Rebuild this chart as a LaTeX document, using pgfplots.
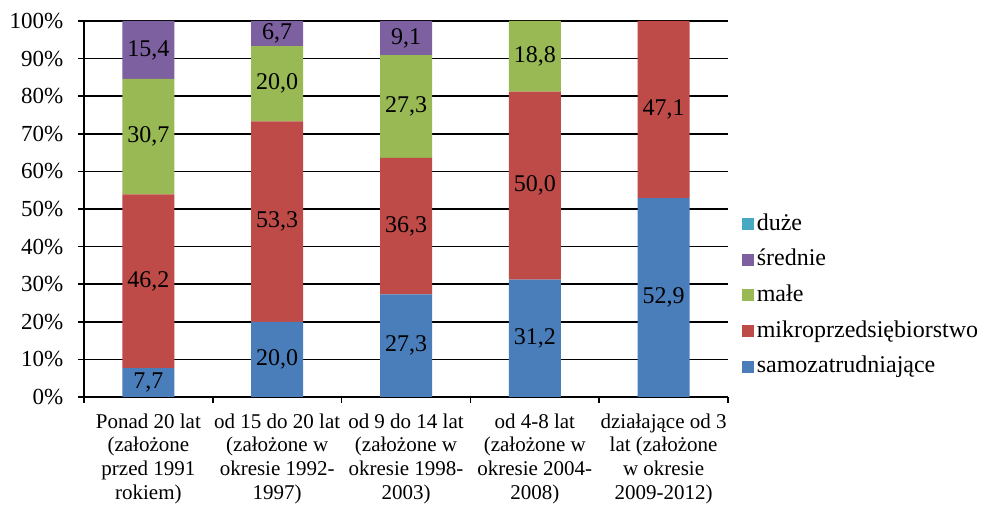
\documentclass[border=0pt]{standalone}
\usepackage{fontspec}
\setmainfont{Liberation Serif}
\usepackage{pgfplots}
\usepackage{pgfplotstable}
\pgfplotsset{compat=1.18}
\definecolor{cSamo}{HTML}{4A7EBB}
\definecolor{cMikro}{HTML}{BE4B48}
\definecolor{cMale}{HTML}{98B954}
\definecolor{cSred}{HTML}{7D60A0}
\definecolor{cDuze}{HTML}{46AAC5}
\pgfplotstableread{
x samo samoL mikro mikroL male maleL sred sredL duze duzeL
0 7.7  7,7  46.2 46,2 30.7 30,7 15.4 15,4 0 {}
1 20.0 20,0 53.3 53,3 20.0 20,0 6.7  6,7  0 {}
2 27.3 27,3 36.3 36,3 27.3 27,3 9.1  9,1  0 {}
3 31.2 31,2 50.0 50,0 18.8 18,8 0    {}   0 {}
4 52.9 52,9 47.1 47,1 0    {}   0    {}   0 {}
}\data
\begin{document}
\fontsize{11}{12.5}\selectfont
\begin{tikzpicture}
\begin{axis}[
  at={(0,0)}, anchor=south west,
  scale only axis, width=322pt, height=188pt,
  ybar stacked, bar width=26pt,
  xmin=-0.5, xmax=4.5, ymin=0, ymax=100,
  axis lines*=left,
  axis line style={black, line width=1pt},
  tick align=outside,
  major tick length=3pt,
  xtick={-0.5,0.5,...,4.5},
  xticklabels={},
  extra x ticks={0,1,2,3,4},
  extra x tick labels={{Ponad 20 lat\\(założone\\przed 1991\\rokiem)},
    {od 15 do 20 lat\\(założone w\\okresie 1992-\\1997)},
    {od 9 do 14 lat\\(założone w\\okresie 1998-\\2003)},
    {od 4-8 lat\\(założone w\\okresie 2004-\\2008)},
    {działające od 3\\lat (założone\\w okresie\\2009-2012)}},
  extra x tick style={major tick length=0pt, grid=none},
  xticklabel style={align=center, yshift=-4.5pt, font=\fontsize{10.5}{11.85}\selectfont},
  ytick={0,10,...,100},
  yticklabel={\pgfmathprintnumber{\tick}\%},
  /pgf/number format/assume math mode=true,
  yticklabel style={xshift=-3.5pt, font=\fontsize{11.5}{13}\selectfont},
  ymajorgrids, grid style={black, line width=0.75pt},
  tick style={black, line width=0.75pt},
  point meta=explicit symbolic,
  nodes near coords,
  every node near coord/.append style={anchor=center, text=black, font=\fontsize{12}{14}\selectfont},
  legend image code/.code={\fill[#1] (0pt,-3pt) rectangle (6pt,3pt);},
  reverse legend,
  legend cell align=left,
  legend style={draw=none, fill=none, at={(1.0217,0.27)}, anchor=west, inner sep=0pt,
    row sep=5.4pt, font=\fontsize{12}{14}\selectfont, nodes={inner sep=1.2pt, text height=8pt, text depth=2pt}},
]
\addplot+[fill=cSamo, draw=none] table[x=x, y=samo, meta=samoL]{\data};
\addplot+[fill=cMikro, draw=none] table[x=x, y=mikro, meta=mikroL]{\data};
\addplot+[fill=cMale, draw=none] table[x=x, y=male, meta=maleL]{\data};
\addplot+[fill=cSred, draw=none] table[x=x, y=sred, meta=sredL]{\data};
\addplot+[fill=cDuze, draw=none] table[x=x, y=duze, meta=duzeL]{\data};
\legend{samozatrudniające, mikroprzedsiębiorstwo, małe, średnie, duże}
\end{axis}
\pgfresetboundingbox
\useasboundingbox (-42pt,-54.5pt) rectangle (450pt,198.5pt);
\end{tikzpicture}
\end{document}
